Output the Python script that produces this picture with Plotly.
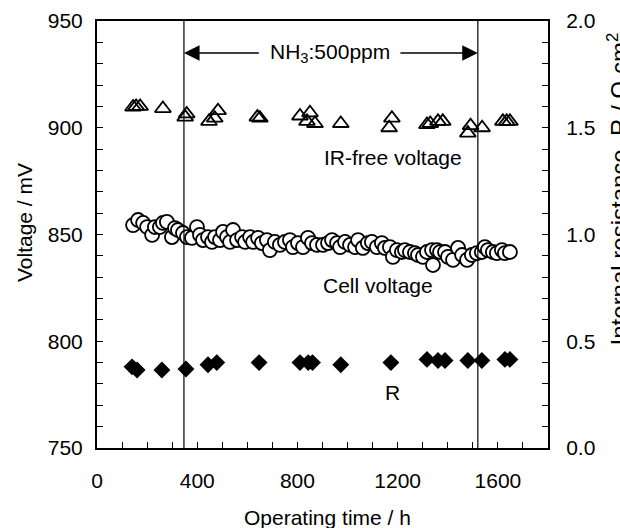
import plotly.graph_objects as go

# ---- data ----
cell_t = [144,164,184,200,220,231,251,263,279,299,311,323,343,359,379,399,411,423,443,459,471,491,503,519,531,543,559,579,591,611,623,643,658,678,690,710,730,750,770,782,802,822,842,858,878,902,922,938,958,970,990,1010,1030,1042,1061,1081,1097,1117,1137,1149,1169,1181,1197,1217,1229,1249,1269,1281,1301,1317,1337,1341,1357,1369,1389,1401,1421,1441,1457,1477,1496,1516,1536,1548,1560,1580,1596,1616,1628,1648]
cell_v = [854.4,856.8,855.4,853.5,849.8,853.5,853.5,855.4,855.9,848.8,853.0,852.1,850.7,848.8,848.4,853.5,849.8,847.4,848.8,846.5,848.8,847.4,851.2,848.8,846.5,852.1,847.4,848.8,846.5,848.8,846.5,848.4,846.0,847.4,842.7,846.5,845.1,846.5,847.4,844.1,846.0,844.1,848.4,846.0,845.1,845.1,846.0,847.4,846.0,844.1,846.5,845.1,844.1,847.4,843.7,846.0,846.5,844.1,846.0,843.7,844.1,839.5,842.7,841.8,842.7,841.8,841.3,840.4,839.5,841.8,842.7,835.7,842.7,841.8,841.8,839.5,838.1,843.7,840.4,838.1,840.4,841.3,841.8,844.1,842.7,841.8,841.3,842.7,841.3,841.8]

irfree_t = [144,156,172,263,352,358,447,470,483,640,650,810,838,850,870,973,1166,1177,1317,1330,1361,1380,1480,1491,1537,1620,1635,1648]
irfree_v = [909.7,910,910,909,905,906.5,903,904.5,908,905,904.5,905.5,903,907,902,902,900,904.5,901.5,902,903,903,897.5,901,900,903,903,903]

r_t = [140,160,259,355,443,478,647,810,843,860,973,1173,1317,1361,1389,1480,1536,1628,1648]
r_val = [0.38,0.365,0.365,0.37,0.39,0.40,0.40,0.40,0.40,0.40,0.39,0.40,0.415,0.41,0.41,0.41,0.41,0.415,0.415]

nh3_period = [347, 1520]   # start / end of NH3 exposure (h)
x_ticks = [0, 400, 800, 1200, 1600]
y_ticks = [750, 800, 850, 900, 950]
y2_ticks = [0.0, 0.5, 1.0, 1.5, 2.0]

FONT = "Liberation Sans, Arial, sans-serif"
FS = 21

fig = go.Figure()
fig.add_trace(go.Scatter(x=irfree_t, y=irfree_v, mode="markers",
                         marker=dict(symbol="triangle-up-open", size=14, color="black",
                                     line=dict(width=1.8, color="black"))))
fig.add_trace(go.Scatter(x=cell_t, y=cell_v, mode="markers",
                         marker=dict(symbol="circle", size=14, color="white",
                                     line=dict(width=1.8, color="black"))))
fig.add_trace(go.Scatter(x=r_t, y=r_val, mode="markers", yaxis="y2",
                         marker=dict(symbol="diamond", size=13, color="black",
                                     line=dict(width=0))))

for t in nh3_period:
    fig.add_shape(type="line", xref="x", yref="paper", x0=t, x1=t, y0=0, y1=1,
                  line=dict(color="black", width=1.2))

axis_common = dict(showline=True, linecolor="black", linewidth=2, ticks="inside",
                   tickcolor="black", ticklen=6, tickwidth=1, showgrid=False, zeroline=False,
                   automargin=False,
                   tickfont=dict(family=FONT, size=FS, color="black"))

fig.update_layout(
    width=620, height=528,
    margin=dict(l=97, r=72, t=21, b=80, autoexpand=False),
    paper_bgcolor="white", plot_bgcolor="white",
    showlegend=False,
    font=dict(family=FONT, size=FS, color="black"),
    xaxis=dict(range=[0, 1800], tickvals=x_ticks, mirror=True, ticklabelstandoff=13,
               minor=dict(dtick=100, ticks="inside", ticklen=6, tickcolor="black", tickwidth=1),
               **axis_common),
    yaxis=dict(range=[750, 950], tickvals=y_ticks, ticklabelstandoff=8,
               minor=dict(dtick=10, ticks="inside", ticklen=6, tickcolor="black", tickwidth=1),
               **axis_common),
    yaxis2=dict(range=[0, 2], tickvals=y2_ticks, tickformat=".1f", overlaying="y", side="right",
                ticklabelstandoff=12,
                minor=dict(dtick=0.1, ticks="inside", ticklen=6, tickcolor="black", tickwidth=1),
                **axis_common),
)

ann_font = dict(family=FONT, size=FS, color="black")
annotations = [
    dict(x=-0.162, y=0.529, xref="paper", yref="paper", text="Voltage / mV", textangle=-90,
         showarrow=False, font=ann_font, xanchor="center", yanchor="middle"),
    dict(x=0.51, y=-0.162, xref="paper", yref="paper", text="Operating time / h",
         showarrow=False, font=ann_font, xanchor="center", yanchor="middle"),
    dict(x=1.192, y=0.607, xref="paper", yref="paper",
         text="Internal resistance, R / Ω cm<sup>2</sup>", textangle=-90,
         showarrow=False, font=dict(family=FONT, size=24, color="black"),
         xanchor="right", yanchor="middle"),
    dict(x=930, y=935, xref="x", yref="y", text="NH<sub>3</sub>:500ppm", showarrow=False,
         font=ann_font),
    dict(x=1181, y=886.3, xref="x", yref="y", text="IR-free voltage", showarrow=False,
         font=ann_font),
    dict(x=1121, y=826.3, xref="x", yref="y", text="Cell voltage", showarrow=False,
         font=ann_font),
    dict(x=1181, y=776.2, xref="x", yref="y", text="R", showarrow=False, font=ann_font),
    dict(x=nh3_period[0], y=935, xref="x", yref="y", ax=652, ay=935, axref="x", ayref="y",
         text="", showarrow=True, arrowhead=2, arrowsize=2.4, arrowwidth=1.3, arrowcolor="black"),
    dict(x=nh3_period[1], y=935, xref="x", yref="y", ax=1205, ay=935, axref="x", ayref="y",
         text="", showarrow=True, arrowhead=2, arrowsize=2.4, arrowwidth=1.3, arrowcolor="black"),
]
fig.update_layout(annotations=annotations)

fig.write_html(
    "out.html",
    config={"displayModeBar": False},
    post_script="document.body.style.margin='0';"
                "document.body.style.overflow='hidden';"
                "document.documentElement.style.overflow='hidden';",
)
